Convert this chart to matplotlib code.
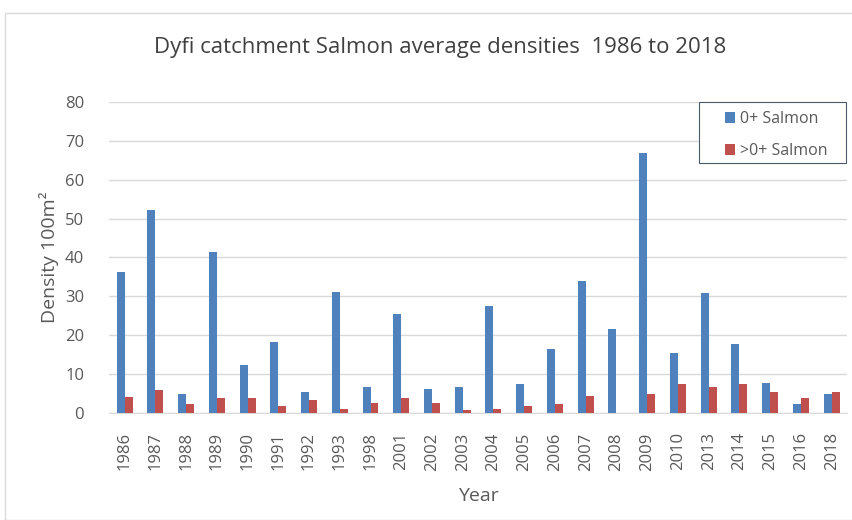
import matplotlib
matplotlib.use("Agg")
from matplotlib import pyplot as plt
from matplotlib.patches import Rectangle
import numpy as np

years = ['1986', '1987', '1988', '1989', '1990', '1991', '1992', '1993', '1998', '2001',
         '2002', '2003', '2004', '2005', '2006', '2007', '2008', '2009', '2010', '2013',
         '2014', '2015', '2016', '2018']
salmon_0 = [36.3, 52.2, 4.8, 41.5, 12.2, 18.3, 5.5, 31.2, 6.6, 25.4,
            6.2, 6.6, 27.5, 7.4, 16.5, 33.8, 21.7, 66.9, 15.3, 30.8,
            17.7, 7.6, 2.2, 4.8]
salmon_older = [4.0, 5.9, 2.3, 3.7, 3.7, 1.8, 3.3, 1.1, 2.6, 3.7,
                2.6, 0.7, 1.1, 1.8, 2.2, 4.4, 0.0, 4.8, 7.4, 6.6,
                7.4, 5.5, 3.7, 5.5]

plt.rcParams['font.family'] = ['Open Sans', 'DejaVu Sans']
grey = '#595959'

fig = plt.figure(figsize=(8.53, 5.2), dpi=100)
ax = fig.add_axes([0.128, 0.206, 0.865, 0.598])

x = np.arange(len(years))
w = 0.26
ax.bar(x - w / 2, salmon_0, w, color='#4F81BD', label='0+ Salmon', zorder=3)
ax.bar(x + w / 2, salmon_older, w, color='#C0504D', label='>0+ Salmon', zorder=3)

ax.set_xlim(-0.5, len(years) - 0.5)
ax.set_ylim(0, 80)
ax.set_yticks(range(0, 81, 10))
ax.set_xticks(x)
ax.set_xticklabels(years, rotation=90)
ax.tick_params(axis='both', length=0, labelsize=12, labelcolor=grey)
ax.tick_params(axis='y', pad=18)
ax.tick_params(axis='x', pad=14)
ax.grid(axis='y', color='#D9D9D9', linewidth=1, zorder=0)
for s in ['top', 'right', 'left']:
    ax.spines[s].set_visible(False)
ax.spines['bottom'].set_color('#D9D9D9')

ax.set_ylabel('Density 100m²', fontsize=14, color=grey, labelpad=4)
ax.set_xlabel('Year', fontsize=14, color=grey, labelpad=12)

fig.text(440 / 853, 1 - 47 / 520, 'Dyfi catchment Salmon average densities  1986 to 2018',
         ha='center', va='center', fontsize=16, color='#404040')

# legend box drawn separately so the padding matches
fig.patches.append(Rectangle((699 / 853, 1 - 163 / 520), 147 / 853, 61 / 520,
                             transform=fig.transFigure, facecolor='white',
                             edgecolor='#4a5a6a', linewidth=0.8, zorder=5))
leg = fig.legend(loc='upper left', bbox_to_anchor=(722 / 853, 1 - 108 / 520), fontsize=11.5,
                 frameon=False, handlelength=0.6, handleheight=0.6,
                 handletextpad=0.35, borderpad=0.2, labelspacing=1.0, borderaxespad=0)
leg.set_zorder(6)
for t in leg.get_texts():
    t.set_color(grey)

fig.patches.append(Rectangle((5 / 853, 0), 1, 1 - 13 / 520, transform=fig.transFigure,
                             fill=False, edgecolor='#D9D9D9', linewidth=1))

fig.savefig('out.png', dpi=100)
